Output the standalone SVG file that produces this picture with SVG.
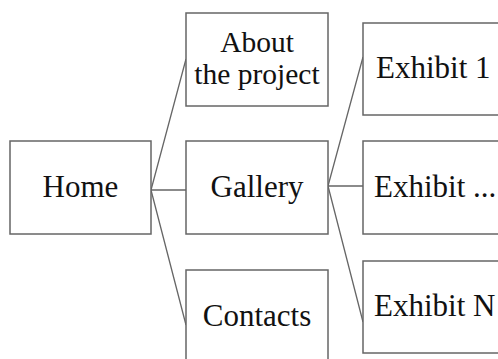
<svg xmlns="http://www.w3.org/2000/svg" width="498" height="359" viewBox="0 0 498 359">
<style>
.box{fill:#fff;stroke:#666;stroke-width:1.5}
.edge{fill:none;stroke:#666;stroke-width:1.3}
text{font-family:"Liberation Serif","Times New Roman",serif;font-size:31px;fill:#111}
.c{text-anchor:middle}
.s{font-size:29.5px}
</style>
<rect width="498" height="359" fill="#fff"/>
<g id="connectors">
<path class="edge" d="M151,190 L186,59 M151,190 L186,190 M151,190 L186,325"/>
<path class="edge" d="M328,186 L363,57 M328,186 L363,186 M328,186 L363,322"/>
</g>
<g id="home"><rect class="box" x="10" y="141" width="141" height="93"/><text class="c" x="80.5" y="197">Home</text></g>
<g id="about"><rect class="box" x="186" y="13" width="142" height="93"/><text class="c s" x="257" y="52">About</text><text class="c s" x="257" y="84">the project</text></g>
<g id="gallery"><rect class="box" x="186" y="141" width="142" height="93"/><text class="c" x="257" y="197">Gallery</text></g>
<g id="contacts"><rect class="box" x="186" y="270" width="142" height="100"/><text class="c" x="257" y="326">Contacts</text></g>
<g id="exhibit1"><rect class="box" x="363" y="23" width="150" height="92"/><text x="376" y="78">Exhibit 1</text></g>
<g id="exhibitdots"><rect class="box" x="363" y="141" width="150" height="93"/><text x="374" y="197">Exhibit ...</text></g>
<g id="exhibitN"><rect class="box" x="363" y="261" width="150" height="92"/><text x="374" y="316">Exhibit N</text></g>
</svg>
